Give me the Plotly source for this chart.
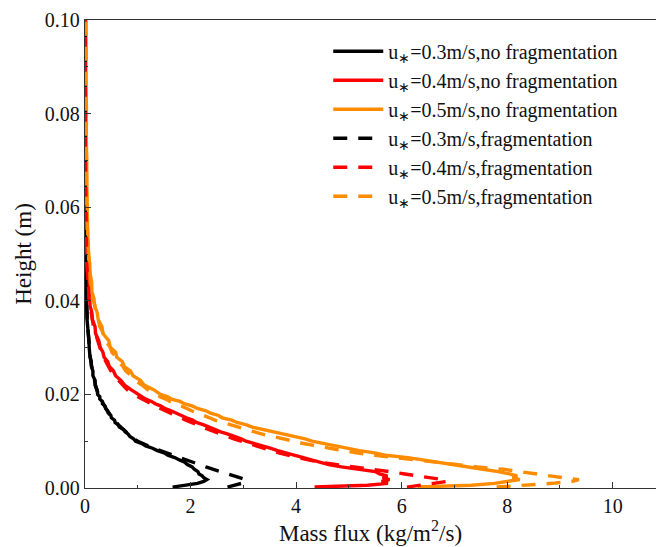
import plotly.graph_objects as go

# Height above the bed (m), shared by every profile
heights = [
    0.0002, 0.0006, 0.0010, 0.0014, 0.0018, 0.0022, 0.0026, 0.0030, 0.0035, 0.0040,
    0.0045, 0.0050, 0.0055, 0.0060, 0.0065, 0.0070, 0.0075, 0.0080, 0.0085, 0.0090,
    0.0095, 0.0100, 0.0105, 0.0110, 0.0115, 0.0120, 0.0125, 0.0130, 0.0135, 0.0140,
    0.0145, 0.0150, 0.0155, 0.0160, 0.0165, 0.0170, 0.0175, 0.0180, 0.0185, 0.0190,
    0.0195, 0.0200, 0.0210, 0.0220, 0.0230, 0.0240, 0.0250, 0.0260, 0.0270, 0.0280,
    0.0290, 0.0300, 0.0315, 0.0330, 0.0345, 0.0360, 0.0375, 0.0390, 0.0405, 0.0420,
    0.0440, 0.0460, 0.0480, 0.0500, 0.0525, 0.0550, 0.0575, 0.0600, 0.0630, 0.0660,
    0.0690, 0.0720, 0.0750, 0.0780, 0.0810, 0.0840, 0.0870, 0.0900, 0.0930, 0.0960,
    0.1000,
]

# Mass flux (kg/m^2/s), no fragmentation
flux_03_nofrag = [
    1.66, 1.95, 2.13, 2.25, 2.31, 2.25, 2.22, 2.16, 2.14, 2.07,
    2.03, 1.94, 1.89, 1.79, 1.70, 1.57, 1.50, 1.37, 1.28, 1.15,
    1.08, 0.96, 0.92, 0.85, 0.82, 0.76, 0.73, 0.65, 0.63, 0.57,
    0.56, 0.50, 0.49, 0.44, 0.43, 0.39, 0.38, 0.33, 0.33, 0.28,
    0.28, 0.24, 0.23, 0.19, 0.19, 0.15, 0.15, 0.12, 0.12, 0.095,
    0.095, 0.08, 0.075, 0.058, 0.052, 0.038, 0.037, 0.028, 0.027, 0.018,
    0.017, 0.011, 0.012, 0.007, 0.008, 0.004, 0.006, 0.003, 0.005, 0.002,
    0.004, 0.002, 0.003, 0.001, 0.003, 0.002, 0.001, 0.003, 0.001, 0.002,
    0.001,
]
flux_04_nofrag = [
    4.35, 5.35, 5.74, 5.62, 5.77, 5.64, 5.73, 5.58, 5.50, 5.12,
    4.86, 4.62, 4.46, 4.24, 4.13, 3.96, 3.81, 3.65, 3.51, 3.36,
    3.23, 3.05, 2.96, 2.81, 2.71, 2.57, 2.47, 2.34, 2.25, 2.11,
    2.04, 1.92, 1.83, 1.71, 1.63, 1.51, 1.44, 1.33, 1.26, 1.15,
    1.08, 0.98, 0.87, 0.75, 0.68, 0.58, 0.54, 0.46, 0.43, 0.36,
    0.34, 0.29, 0.26, 0.20, 0.19, 0.14, 0.13, 0.095, 0.09, 0.065,
    0.058, 0.042, 0.037, 0.027, 0.024, 0.016, 0.019, 0.011, 0.013, 0.008,
    0.011, 0.006, 0.009, 0.005, 0.008, 0.004, 0.007, 0.003, 0.006, 0.003,
    0.004,
]
flux_05_nofrag = [
    6.30, 7.32, 7.76, 7.96, 8.24, 8.10, 8.19, 8.04, 7.83, 7.54,
    7.27, 6.92, 6.64, 6.41, 6.12, 5.69, 5.49, 5.20, 4.98, 4.72,
    4.55, 4.30, 4.17, 3.96, 3.79, 3.56, 3.34, 3.17, 3.06, 2.88,
    2.78, 2.60, 2.53, 2.38, 2.29, 2.13, 2.04, 1.88, 1.80, 1.64,
    1.57, 1.43, 1.30, 1.12, 1.05, 0.91, 0.86, 0.74, 0.71, 0.60,
    0.58, 0.48, 0.45, 0.34, 0.32, 0.25, 0.23, 0.18, 0.17, 0.13,
    0.125, 0.095, 0.09, 0.065, 0.062, 0.046, 0.048, 0.036, 0.04, 0.028,
    0.034, 0.024, 0.03, 0.02, 0.027, 0.018, 0.024, 0.016, 0.022, 0.014,
    0.018,
]

# Mass flux (kg/m^2/s), with fragmentation
flux_03_frag = [
    2.70, 2.86, 2.97, 3.06, 3.04, 2.93, 2.81, 2.70, 2.56, 2.42,
    2.29, 2.17, 2.04, 1.94, 1.79, 1.67, 1.54, 1.43, 1.30, 1.20,
    1.09, 1.00, 0.93, 0.88, 0.82, 0.78, 0.72, 0.68, 0.63, 0.60,
    0.55, 0.52, 0.48, 0.46, 0.42, 0.40, 0.37, 0.35, 0.32, 0.30,
    0.27, 0.26, 0.22, 0.20, 0.18, 0.17, 0.14, 0.13, 0.11, 0.10,
    0.09, 0.085, 0.07, 0.062, 0.05, 0.043, 0.035, 0.03, 0.024, 0.02,
    0.014, 0.012, 0.009, 0.008, 0.005, 0.006, 0.003, 0.004, 0.002, 0.003,
    0.002, 0.003, 0.001, 0.002, 0.002, 0.001, 0.003, 0.001, 0.002, 0.001,
    0.002,
]
flux_04_frag = [
    6.10, 6.36, 6.62, 6.86, 6.77, 6.49, 6.31, 6.06, 5.77, 5.41,
    5.03, 4.72, 4.44, 4.23, 4.01, 3.86, 3.67, 3.53, 3.37, 3.23,
    3.07, 2.95, 2.82, 2.71, 2.58, 2.47, 2.34, 2.24, 2.12, 2.03,
    1.91, 1.82, 1.71, 1.62, 1.52, 1.43, 1.34, 1.26, 1.16, 1.09,
    0.99, 0.92, 0.80, 0.71, 0.62, 0.55, 0.49, 0.44, 0.39, 0.35,
    0.31, 0.28, 0.23, 0.20, 0.16, 0.14, 0.11, 0.10, 0.075, 0.07,
    0.05, 0.045, 0.032, 0.03, 0.02, 0.02, 0.012, 0.014, 0.008, 0.01,
    0.006, 0.009, 0.004, 0.007, 0.004, 0.006, 0.003, 0.005, 0.002, 0.004,
    0.003,
]
flux_05_frag = [
    7.80, 8.36, 8.86, 9.22, 9.36, 9.06, 8.81, 8.63, 8.31, 7.93,
    7.44, 7.03, 6.61, 6.23, 5.84, 5.49, 5.14, 4.87, 4.59, 4.37,
    4.14, 3.96, 3.73, 3.56, 3.36, 3.21, 3.02, 2.89, 2.73, 2.61,
    2.46, 2.36, 2.24, 2.16, 2.02, 1.93, 1.81, 1.73, 1.61, 1.53,
    1.42, 1.36, 1.19, 1.08, 0.95, 0.88, 0.77, 0.72, 0.63, 0.59,
    0.51, 0.48, 0.39, 0.35, 0.28, 0.25, 0.20, 0.19, 0.14, 0.14,
    0.10, 0.095, 0.07, 0.07, 0.05, 0.052, 0.038, 0.042, 0.03, 0.035,
    0.025, 0.03, 0.02, 0.027, 0.018, 0.024, 0.016, 0.021, 0.014, 0.02,
    0.015,
]

series_names = [
    "u<sub>∗</sub>=0.3m/s,no fragmentation",
    "u<sub>∗</sub>=0.4m/s,no fragmentation",
    "u<sub>∗</sub>=0.5m/s,no fragmentation",
    "u<sub>∗</sub>=0.3m/s,fragmentation",
    "u<sub>∗</sub>=0.4m/s,fragmentation",
    "u<sub>∗</sub>=0.5m/s,fragmentation",
]
series_flux = [flux_03_nofrag, flux_04_nofrag, flux_05_nofrag,
               flux_03_frag, flux_04_frag, flux_05_frag]
series_colors = ["#000000", "#ff0000", "#ff8c00",
                 "#000000", "#ff0000", "#ff8c00"]
series_dash = ["solid", "solid", "solid",
               "14px,11px", "14px,11px", "14px,11px"]

FONT = "Liberation Serif"

fig = go.Figure()
for name, flux, color, dash in zip(series_names, series_flux, series_colors, series_dash):
    fig.add_trace(go.Scatter(
        x=flux, y=heights, mode="lines", name=name,
        line=dict(color=color, width=3.4, dash=dash),
    ))

axis_common = dict(
    showline=True, linecolor="#333333", linewidth=1.3,
    ticks="inside", ticklen=6, tickwidth=1.2, tickcolor="#333333",
    showgrid=False, zeroline=False,
    tickfont=dict(family=FONT, size=20, color="#111111"),
)

fig.update_layout(
    width=656, height=547,
    margin=dict(l=85, r=0, t=20, b=59),
    paper_bgcolor="white", plot_bgcolor="white",
    font=dict(family=FONT, color="#111111"),
    xaxis=dict(
        range=[0, 10.82], dtick=2, tick0=0, mirror=True,
        minor=dict(ticks="inside", ticklen=3, dtick=1, tickcolor="#333333"),
        title=dict(text="Mass flux (kg/m<sup>2</sup>/s)",
                   font=dict(family=FONT, size=23), standoff=4),
        **axis_common,
    ),
    yaxis=dict(
        range=[0, 0.1], dtick=0.02, tick0=0, tickformat=".2f",
        minor=dict(ticks="inside", ticklen=3, dtick=0.01, tickcolor="#333333"),
        title=dict(text="Height (m)", font=dict(family=FONT, size=23), standoff=6),
        **axis_common,
    ),
    legend=dict(
        x=0.426, y=0.975, xanchor="left", yanchor="top",
        bgcolor="rgba(0,0,0,0)", borderwidth=0,
        font=dict(family=FONT, size=20, color="#111111"),
        itemwidth=50,
    ),
    showlegend=True,
)

fig.write_html("out.html")
